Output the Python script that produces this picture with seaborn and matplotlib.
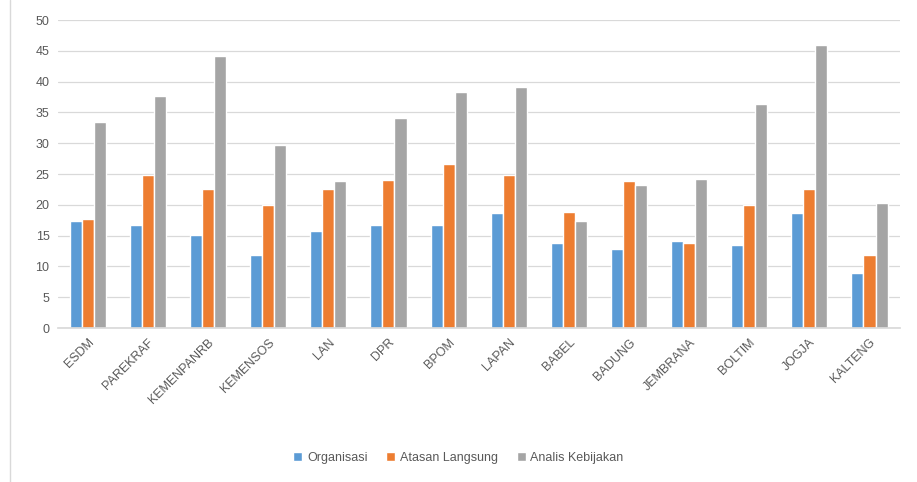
import matplotlib
matplotlib.use("Agg")
import matplotlib.pyplot as plt
import seaborn as sns
import pandas as pd
from matplotlib.lines import Line2D

categories = ["ESDM", "PAREKRAF", "KEMENPANRB", "KEMENSOS", "LAN", "DPR", "BPOM",
              "LAPAN", "BABEL", "BADUNG", "JEMBRANA", "BOLTIM", "JOGJA", "KALTENG"]
organisasi = [17.4, 16.7, 15.1, 11.8, 15.8, 16.7, 16.7, 18.7, 13.8, 12.8, 14.1, 13.5, 18.7, 8.9]
atasan = [17.7, 24.8, 22.5, 19.9, 22.6, 24.0, 26.7, 24.8, 18.8, 23.9, 13.8, 19.9, 22.6, 11.8]
analis = [33.4, 37.6, 44.1, 29.7, 23.9, 34.1, 38.3, 39.2, 17.4, 23.2, 24.2, 36.3, 46.0, 20.3]
series_names = ["Organisasi", "Atasan Langsung", "Analis Kebijakan"]
yticks = [0, 5, 10, 15, 20, 25, 30, 35, 40, 45, 50]

rows = []
for name, vals in zip(series_names, [organisasi, atasan, analis]):
    for c, v in zip(categories, vals):
        rows.append({"Instansi": c, "Series": name, "Nilai": v})
df = pd.DataFrame(rows)

sns.set_theme(style="white")
plt.rcParams['font.family'] = ['Liberation Sans', 'DejaVu Sans']

fig = plt.figure(figsize=(9.17, 4.82), dpi=100)
ax = fig.add_axes([0.063, 0.3195, 0.918, 0.639])
palette = ["#5B9BD5", "#ED7D31", "#A5A5A5"]
sns.barplot(data=df, x="Instansi", y="Nilai", hue="Series", palette=palette,
            width=0.6, gap=0, saturation=1, ax=ax, legend=True)

ax.set_ylim(0, 50)
ax.set_xlim(-0.5, len(categories) - 0.5)
ax.set_yticks(yticks)
ax.set_yticklabels([str(t) for t in yticks], color="#595959", fontsize=9)
ax.yaxis.grid(True, color="#D9D9D9", linewidth=0.9)
ax.set_axisbelow(True)
ax.set_xlabel("")
ax.set_ylabel("")
for s in ["top", "right", "left"]:
    ax.spines[s].set_visible(False)
ax.spines["bottom"].set_color("#D9D9D9")
ax.tick_params(axis="both", length=0, pad=6)
ax.set_xticks(range(len(categories)))
ax.set_xticklabels(categories, rotation=45, ha="right", rotation_mode="anchor",
                   color="#595959", fontsize=9)

handles, labels = ax.get_legend_handles_labels()
ax.legend(handles, labels, loc="center", bbox_to_anchor=(0.5, -0.5 + 0.0),
          bbox_transform=fig.transFigure, ncol=3, frameon=False, fontsize=9,
          handlelength=0.7, handleheight=0.7, columnspacing=1.5, handletextpad=0.4,
          labelcolor="#595959")
leg = ax.get_legend()
leg.set_bbox_to_anchor((0.5, 0.05), transform=fig.transFigure)

fig.add_artist(Line2D([0.011, 0.011], [0, 1], transform=fig.transFigure,
                      color="#D9D9D9", linewidth=1))

fig.savefig("out.png", dpi=100)
